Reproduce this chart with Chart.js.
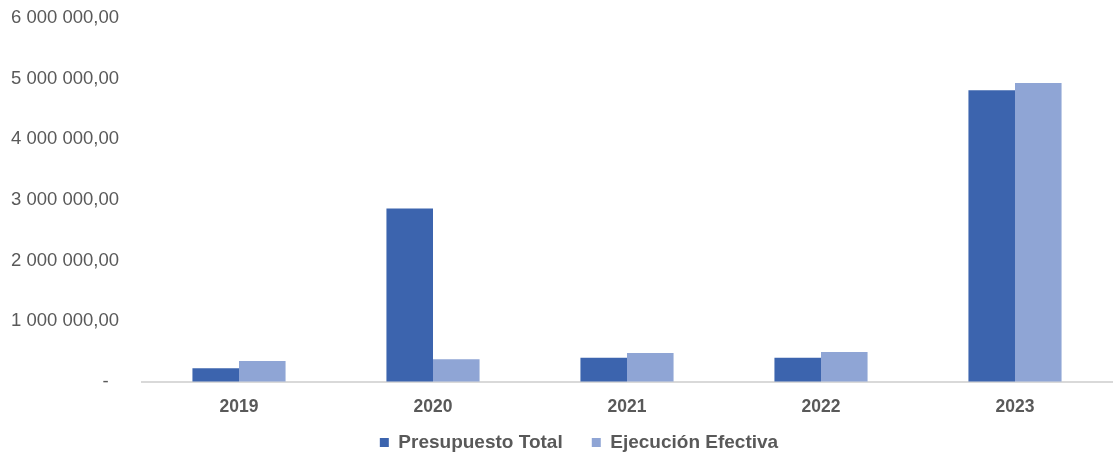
<!DOCTYPE html>
<html>
<head>
<meta charset="utf-8">
<script src="https://cdn.jsdelivr.net/npm/chart.js@4/dist/chart.umd.min.js"></script>
<style>
  html, body { margin: 0; padding: 0; background: #fff; }
  #wrap { width: 1114px; height: 455px; }
</style>
</head>
<body>
<div id="wrap"><canvas id="chartCanvas" width="1114" height="455"></canvas></div>
<script>
const years = ["2019", "2020", "2021", "2022", "2023"];
const presupuestoTotal = [225000, 2860000, 400000, 400000, 4810000];
const ejecucionEfectiva = [345000, 375000, 480000, 495000, 4930000];

function formatTick(value) {
  if (value === 0) return "-  ";
  const parts = value.toFixed(2).split(".");
  const intPart = parts[0].replace(/\B(?=(\d{3})+(?!\d))/g, " ");
  return intPart + "," + parts[1];
}

// nudge the legend a bit to the right, like the original
const legendShift = {
  id: "legendShift",
  afterLayout(chart) {
    const l = chart.legend;
    if (!l) return;
    l.left += 23;
    l.right += 23;
  }
};

const ctx = document.getElementById("chartCanvas").getContext("2d");

new Chart(ctx, {
  type: "bar",
  data: {
    labels: years,
    datasets: [
      {
        label: "Presupuesto Total",
        data: presupuestoTotal,
        backgroundColor: "#3C64AE"
      },
      {
        label: "Ejecución Efectiva",
        data: ejecucionEfectiva,
        backgroundColor: "#8FA5D5"
      }
    ]
  },
  plugins: [legendShift],
  options: {
    responsive: false,
    animation: false,
    layout: { padding: { top: 18, right: 2, bottom: -7, left: 0 } },
    datasets: {
      bar: { categoryPercentage: 0.48, barPercentage: 1 }
    },
    scales: {
      x: {
        grid: { display: false },
        border: { display: true, color: "#D9D9D9", width: 2 },
        ticks: {
          color: "#595959",
          font: { family: "Liberation Sans, Arial", size: 17.5, weight: "bold" },
          padding: 7
        }
      },
      y: {
        min: 0,
        max: 6000000,
        grid: {
          display: true,
          drawOnChartArea: false,
          drawTicks: true,
          tickLength: 23,
          color: "rgba(0,0,0,0)"
        },
        border: { display: false },
        afterFit: function (scale) { scale.width = 142; },
        ticks: {
          stepSize: 1000000,
          color: "#595959",
          padding: 0,
          font: { family: "Liberation Sans, Arial", size: 18.5 },
          callback: function (v) { return formatTick(v); }
        }
      }
    },
    plugins: {
      tooltip: { enabled: false },
      legend: {
        position: "bottom",
        labels: {
          color: "#595959",
          boxWidth: 9,
          boxHeight: 9,
          padding: 8,
          font: { family: "Liberation Sans, Arial", size: 19, weight: "bold" },
          generateLabels: function (chart) {
            const items = Chart.defaults.plugins.legend.labels.generateLabels(chart);
            items[0].text = items[0].text + "    ";
            return items;
          }
        }
      }
    }
  }
});
</script>
</body>
</html>
